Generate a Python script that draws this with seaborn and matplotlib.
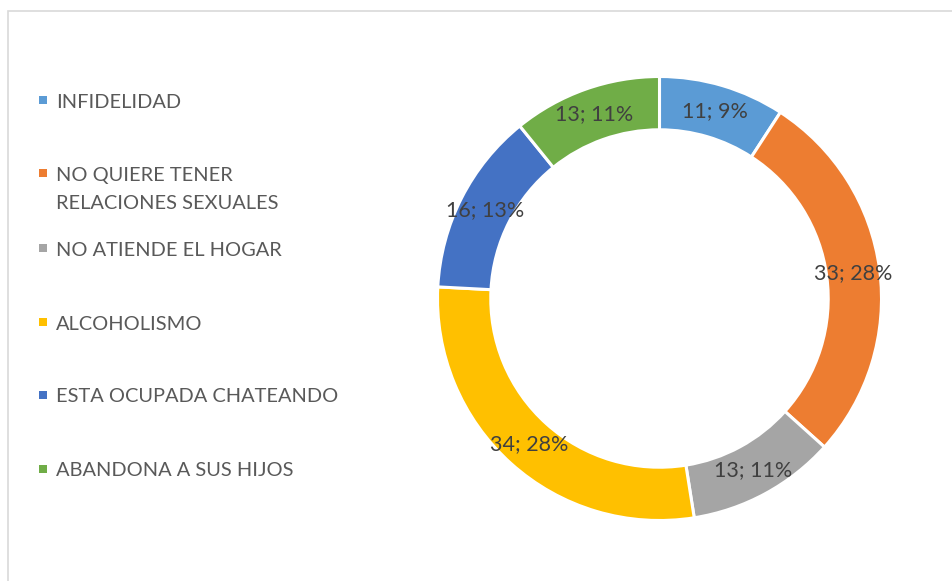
import matplotlib.pyplot as plt
import seaborn as sns
from matplotlib.patches import Rectangle

categorias = [
    "INFIDELIDAD",
    "NO QUIERE TENER\nRELACIONES SEXUALES",
    "NO ATIENDE EL HOGAR",
    "ALCOHOLISMO",
    "ESTA OCUPADA CHATEANDO",
    "ABANDONA A SUS HIJOS",
]
valores = [11, 33, 13, 34, 16, 13]
colores = ["#5B9BD5", "#ED7D31", "#A5A5A5", "#FFC000", "#4472C4", "#70AD47"]

W, H = 953, 581
sns.set_theme(style="white")
plt.rcParams["font.family"] = ["Lato", "DejaVu Sans"]

fig = plt.figure(figsize=(W / 100, H / 100), dpi=100)
palette = sns.color_palette(colores)

# anillo: centro (659.5, 298.5) px, radio exterior ~221 px
cx, cy, r = 659.5, 298.5, 222
ax = fig.add_axes([(cx - r) / W, (H - cy - r) / H, 2 * r / W, 2 * r / H])
total = sum(valores)
wedges, _, autotexts = ax.pie(
    valores,
    colors=palette,
    startangle=90,
    counterclock=False,
    autopct="%1.0f%%",
    pctdistance=0.88,
    wedgeprops=dict(width=0.24, edgecolor="white", linewidth=2.2),
    textprops=dict(fontsize=15.5, color="#404040"),
)
for t, v in zip(autotexts, valores):
    t.set_text(f"{v}; {int(100 * v / total + 0.5)}%")
ax.set_xlim(-1, 1)
ax.set_ylim(-1, 1)
ax.set_aspect("equal")
ax.axis("off")

# leyenda a la izquierda (coordenadas en px)
leg = fig.add_axes([0, 0, 1, 1])
leg.set_xlim(0, W)
leg.set_ylim(H, 0)
leg.axis("off")
filas_y = [100, 173, 248, 322, 395, 469]
for nombre, color, y in zip(categorias, palette, filas_y):
    leg.scatter([43.5], [y], marker="s", s=40, color=color, linewidths=0)
    leg.text(56, y - 6.5, nombre, fontsize=14.4, color="#595959", va="top", ha="left",
             linespacing=1.85)

# marco gris claro (solo visible arriba y a la izquierda)
fig.add_artist(Rectangle((8.5 / W, -0.1), 1.2, (H - 11) / H + 0.1, transform=fig.transFigure,
                         fill=False, edgecolor="#D9D9D9", linewidth=1.2))

fig.savefig("out.png", dpi=100)
